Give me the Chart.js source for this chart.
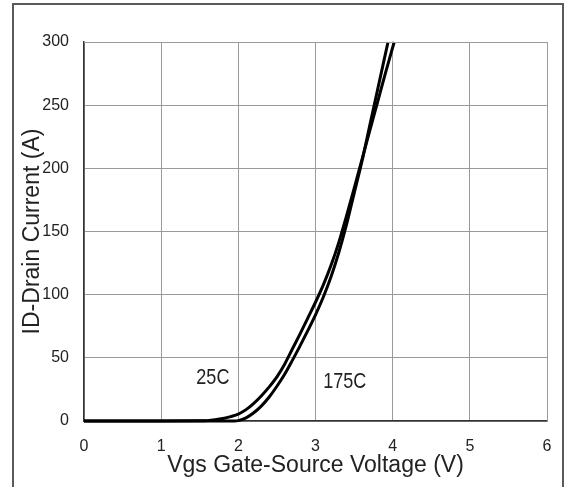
<!DOCTYPE html>
<html>
<head>
<meta charset="utf-8">
<script src="https://cdn.jsdelivr.net/npm/chart.js@4.4.1/dist/chart.umd.min.js"></script>
<style>
  html, body { margin: 0; padding: 0; background: #fff; }
  #wrap { position: relative; width: 575px; height: 487px; }
  #frame { position: absolute; left: 12px; top: 3px; width: 552px; height: 500px; border: 2px solid #5a5a5a; box-sizing: border-box; pointer-events: none; }
  canvas { position: absolute; left: 0; top: 0; }
</style>
</head>
<body>
<div id="wrap">
  <canvas id="c" width="575" height="487"></canvas>
  <div id="frame"></div>
</div>
<script>
// Vgs (V) and Id (A) for the two temperature curves
const vgs25 = [0, 1.0, 1.5, 1.6, 1.7, 1.8, 1.9, 2.0, 2.1, 2.2, 2.3, 2.4, 2.5, 2.6, 2.7, 2.8, 2.9, 3.0, 3.1, 3.2, 3.3, 3.4, 3.5, 3.6, 3.7, 3.8, 3.9, 4.02];
const id25  = [0, 0, 0.1, 0.3, 1, 2, 3.5, 5.5, 9, 14, 20, 27, 35, 45, 57, 69, 81.5, 94, 107.5, 123, 141, 162, 184, 206.5, 229, 251.5, 274, 300];
const vgs175 = [0, 1.5, 1.95, 2.0, 2.1, 2.2, 2.3, 2.4, 2.5, 2.6, 2.7, 2.8, 2.9, 3.0, 3.1, 3.2, 3.3, 3.4, 3.5, 3.6, 3.7, 3.8, 3.94];
const id175  = [0, 0, 0, 0.3, 2.5, 6.5, 12, 19, 27.5, 37, 48, 59.5, 71.5, 84, 98, 114, 133, 155, 180, 205, 233, 261, 300];
const xTicks = [0, 1, 2, 3, 4, 5, 6];
const yTicks = [0, 50, 100, 150, 200, 250, 300];
const curveLabels = ["25C", "175C"];
const labelAnchors = [[1.67, 34], [3.38, 31]]; // data coords (V, A)

const toPts = (xs, ys) => xs.map((x, i) => ({ x: x, y: ys[i] }));

const labelPlugin = {
  id: 'curveLabels',
  afterDatasetsDraw(chart) {
    const { ctx, scales: { x, y } } = chart;
    ctx.save();
    ctx.fillStyle = '#222';
    ctx.font = "19px 'Liberation Sans', Arial, sans-serif";
    ctx.textAlign = 'center';
    ctx.textBaseline = 'middle';
    curveLabels.forEach((t, i) => {
      const px = x.getPixelForValue(labelAnchors[i][0]);
      const py = y.getPixelForValue(labelAnchors[i][1]);
      ctx.save();
      ctx.translate(px, py);
      ctx.scale(0.95, 1.18);
      ctx.fillText(t, 0, 0);
      ctx.restore();
    });
    ctx.restore();
  }
};

const tickFont = { family: "'Liberation Sans', Arial, sans-serif", size: 16 };
const titleFont = { family: "'Liberation Sans', Arial, sans-serif", size: 23 };

new Chart(document.getElementById('c'), {
  type: 'line',
  data: {
    datasets: [
      { label: curveLabels[0], data: toPts(vgs25, id25) },
      { label: curveLabels[1], data: toPts(vgs175, id175) }
    ]
  },
  options: {
    responsive: false,
    animation: false,
    layout: { padding: { top: 42, right: 28, left: 0, bottom: 0 } },
    elements: {
      line: { borderColor: '#000', borderWidth: 3, cubicInterpolationMode: 'monotone', fill: false },
      point: { radius: 0 }
    },
    datasets: { line: { clip: false } },
    plugins: { legend: { display: false }, tooltip: { enabled: false } },
    scales: {
      x: {
        type: 'linear', min: 0, max: 6,
        afterBuildTicks: s => { s.ticks = xTicks.map(v => ({ value: v })); },
        afterFit: s => { s.height = 66; },
        grid: { color: '#9a9a9a', lineWidth: 1, drawTicks: false },
        border: { color: '#333', width: 1.5 },
        ticks: { color: '#222', font: tickFont, padding: 16 },
        title: { display: true, text: 'Vgs Gate-Source Voltage (V)', color: '#222', font: titleFont, padding: { top: 0, bottom: 8 } }
      },
      y: {
        type: 'linear', min: 0, max: 300,
        afterBuildTicks: s => { s.ticks = yTicks.map(v => ({ value: v })); },
        afterFit: s => { s.width = 84; },
        grid: { color: '#9a9a9a', lineWidth: 1, drawTicks: false },
        border: { color: '#333', width: 1.5 },
        ticks: { color: '#222', font: tickFont, padding: 15 },
        title: { display: true, text: 'ID-Drain Current (A)', color: '#222', font: titleFont, padding: { top: 19, bottom: 0 } }
      }
    }
  },
  plugins: [labelPlugin, {
    id: 'edges',
    afterDraw(chart) {
      const { ctx, chartArea: a } = chart;
      ctx.save();
      ctx.strokeStyle = '#9a9a9a';
      ctx.lineWidth = 1;
      ctx.beginPath();
      ctx.moveTo(a.left, a.top + 0.5); ctx.lineTo(a.right + 0.5, a.top + 0.5);
      ctx.lineTo(a.right + 0.5, a.bottom);
      ctx.stroke();
      ctx.restore();
    }
  }]
});
</script>
</body>
</html>
